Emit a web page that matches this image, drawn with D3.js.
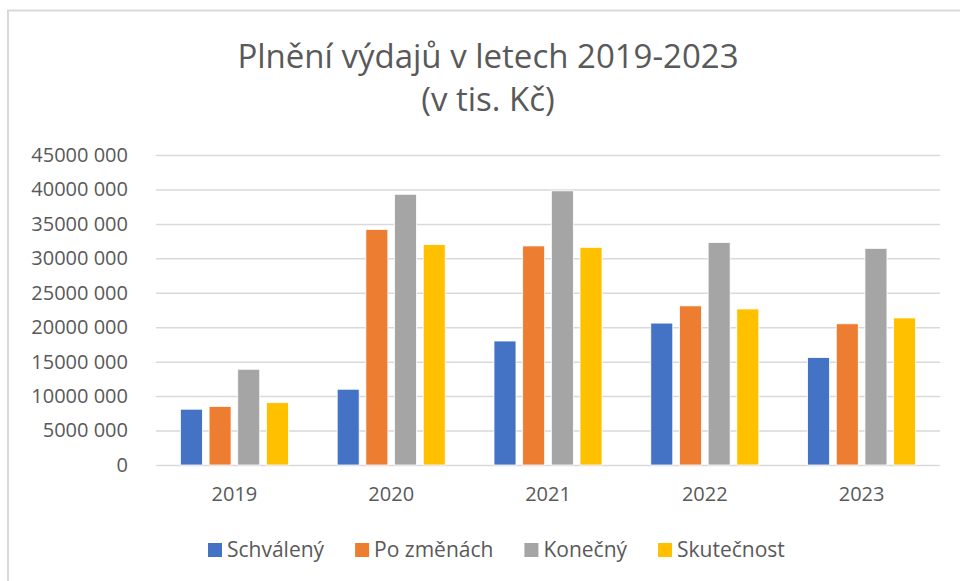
<!DOCTYPE html>
<html>
<head>
<meta charset="utf-8">
<script src="https://cdn.jsdelivr.net/npm/d3@7"></script>
<style>
  html, body { margin: 0; padding: 0; background: #fff; }
  svg { display: block; font-family: "Open Sans", sans-serif; }
</style>
</head>
<body>
<div class="main-container"></div>
<script>
// data (values in tis. Kč)
const years = ["2019", "2020", "2021", "2022", "2023"];
const seriesNames = ["Schválený", "Po změnách", "Konečný", "Skutečnost"];
const schvaleny = [8100000, 11000000, 18000000, 20600000, 15600000];
const poZmenach = [8500000, 34200000, 31800000, 23100000, 20500000];
const konecny = [13900000, 39300000, 39800000, 32300000, 31450000];
const skutecnost = [9050000, 32000000, 31600000, 22650000, 21350000];
const colors = ["#4472C4", "#ED7D31", "#A5A5A5", "#FFC000"];
const yTicks = [0, 5000000, 10000000, 15000000, 20000000, 25000000, 30000000, 35000000, 40000000, 45000000];

const seriesValues = [schvaleny, poZmenach, konecny, skutecnost];
const rows = years.map((y, i) => ({ year: y, vals: seriesValues.map((s) => s[i]) }));

const fmt = (v) => v === 0 ? "0" : `${v / 1000} 000`;

const W = 960, H = 581;
const TEXT = "#595959";
const GRID = "#D9D9D9";

function main() {
  const root = d3.select(".main-container");
  const svg = root.append("svg").attr("width", W).attr("height", H);

  // chart frame
  svg.append("rect").attr("x", 8).attr("y", 10.5).attr("width", W + 20).attr("height", H + 20)
    .attr("fill", "#fff").attr("stroke", GRID).attr("stroke-width", 2);

  // title
  const title = svg.append("text").attr("text-anchor", "middle").attr("fill", TEXT)
    .attr("font-size", 33);
  title.append("tspan").attr("x", 488).attr("y", 68).text("Plnění výdajů v letech 2019-2023");
  title.append("tspan").attr("x", 488).attr("y", 111).text("(v tis. Kč)");

  const x = d3.scaleBand().domain(years).range([156, 940]).paddingInner(0.311).paddingOuter(0.1555);
  const xs = d3.scaleBand().domain(seriesNames).range([0, x.bandwidth()]).paddingInner(0.233);
  const y = d3.scaleLinear().domain([0, 45000000]).range([465, 155]);

  // gridlines + y labels
  const yAxis = svg.append("g").attr("transform", "translate(156,0)")
    .call(d3.axisLeft(y).tickValues(yTicks).tickFormat(fmt).tickSize(-784).tickPadding(28));
  yAxis.select(".domain").remove();
  yAxis.selectAll(".tick line").attr("stroke", GRID).attr("stroke-width", 1.5);
  yAxis.selectAll(".tick text").attr("fill", TEXT).attr("font-size", 20).attr("font-family", "Open Sans");

  // bars
  const groups = svg.append("g").selectAll("g").data(rows).join("g")
    .attr("transform", (d) => `translate(${x(d.year)},0)`);
  groups.selectAll("rect").data((d) => d.vals.map((v, i) => ({ name: seriesNames[i], v, i })))
    .join("rect")
    .attr("x", (d) => xs(d.name))
    .attr("width", xs.bandwidth())
    .attr("y", (d) => y(d.v))
    .attr("height", (d) => y(0) - y(d.v))
    .attr("fill", (d) => colors[d.i])
    .attr("stroke", "#fff").attr("stroke-width", 0.8);

  // x labels
  const xAxis = svg.append("g").attr("transform", "translate(0,465)")
    .call(d3.axisBottom(x).tickSize(0).tickPadding(22));
  xAxis.select(".domain").remove();
  xAxis.selectAll(".tick text").attr("fill", TEXT).attr("font-size", 20).attr("font-family", "Open Sans");

  // legend
  const legend = svg.append("g").attr("transform", "translate(208,0)");
  let lx = 0;
  seriesNames.forEach((name, i) => {
    const item = legend.append("g").attr("transform", `translate(${lx},0)`);
    item.append("rect").attr("x", 0).attr("y", 543).attr("width", 14).attr("height", 14).attr("fill", colors[i]);
    const t = item.append("text").attr("x", 19).attr("y", 557).attr("fill", TEXT)
      .attr("font-size", 21).text(name);
    lx += 19 + t.node().getComputedTextLength() + 31;
  });
}
main();
</script>
</body>
</html>
